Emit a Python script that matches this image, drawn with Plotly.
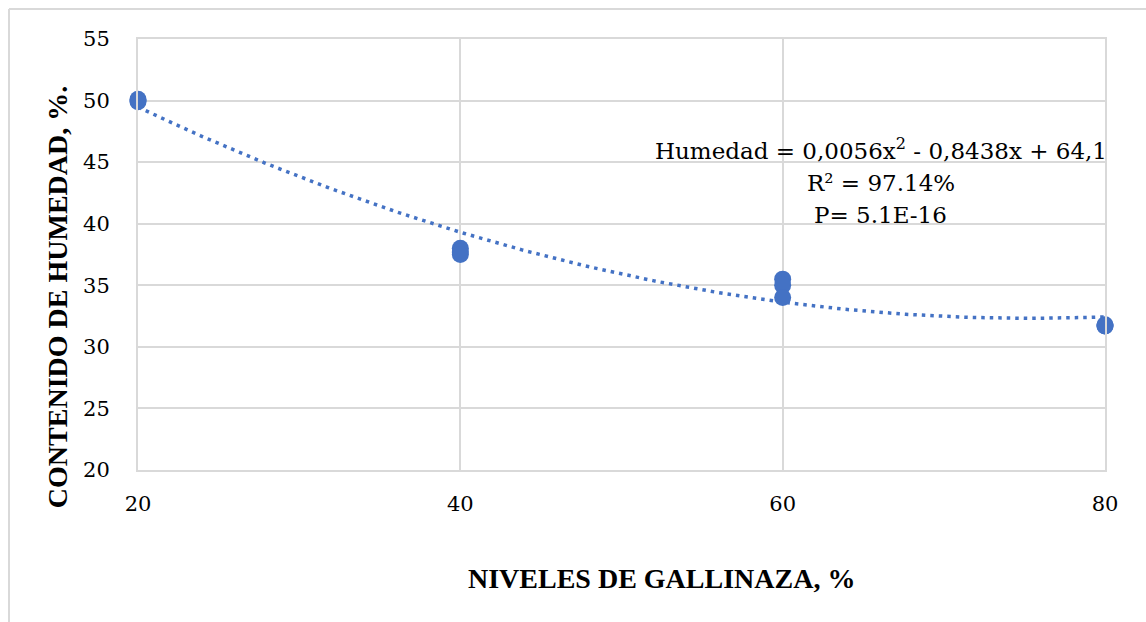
import numpy as np
import plotly.graph_objects as go

# Observed moisture content (%) at each poultry-manure level (%)
niveles = [20, 20, 20, 40, 40, 40, 60, 60, 60, 80, 80, 80]
humedad = [50.1, 50.0, 49.9, 38.0, 37.7, 37.5, 35.5, 35.0, 34.0, 31.8, 31.7, 31.7]

# Quadratic trend reported for the data
coef_a, coef_b, coef_c = 0.0056, -0.8438, 64.1
r2_text = "97.14%"
p_text = "5.1E-16"

x_ticks = [20, 40, 60, 80]
y_ticks = [20, 25, 30, 35, 40, 45, 50, 55]

BLUE = "#4472C4"
GRID = "#D9D9D9"
FONT = "DejaVu Serif"
FONT_B = "Liberation Serif"

xt = np.linspace(20, 80, 200)
yt = coef_a * xt**2 + coef_b * xt + coef_c

fig = go.Figure()
fig.add_trace(go.Scatter(
    x=xt, y=yt, mode="lines",
    line=dict(color=BLUE, width=3.5, dash="3.5px,5px"),
    hoverinfo="skip", showlegend=False,
))
fig.add_trace(go.Scatter(
    x=niveles, y=humedad, mode="markers",
    marker=dict(color=BLUE, size=17),
    cliponaxis=False, showlegend=False,
))

axis_common = dict(
    showgrid=True, gridcolor=GRID, gridwidth=2,
    showline=True, linecolor=GRID, linewidth=2, mirror=True,
    zeroline=False, ticks="",
    tickfont=dict(family=FONT, size=21, color="black"),
)

fig.update_xaxes(range=[20, 80], tickvals=x_ticks, ticklabelstandoff=14, **axis_common)
fig.update_yaxes(range=[20, 55], tickvals=y_ticks, ticklabelstandoff=22, **axis_common)

eq_lines = [
    f"Humedad = {str(coef_a).replace('.', ',')}x<sup>2</sup> - "
    f"{str(abs(coef_b)).replace('.', ',')}x + {str(coef_c).replace('.', ',')}",
    f"R² = {r2_text}",
    f"P= {p_text}",
]
eq_y = [0.7448, 0.6659, 0.5916]

annotations = [
    dict(text=t, xref="paper", yref="paper", x=0.768, y=y,
         xanchor="center", yanchor="middle", showarrow=False,
         font=dict(family=FONT, size=23, color="black"))
    for t, y in zip(eq_lines, eq_y)
]
annotations += [
    dict(text="<b>NIVELES DE GALLINAZA, %</b>", xref="paper", yref="paper",
         x=0.541, y=-0.2506, xanchor="center", yanchor="middle", showarrow=False,
         font=dict(family=FONT_B, size=28, color="black")),
    dict(text="<b>CONTENIDO DE HUMEDAD, %.</b>", xref="paper", yref="paper",
         x=-0.0838, y=0.401, xanchor="center", yanchor="middle", showarrow=False,
         textangle=-90, font=dict(family=FONT_B, size=28, color="black")),
]

fig.update_layout(
    width=1146, height=622,
    margin=dict(l=138, r=41, t=39, b=152),
    paper_bgcolor="white", plot_bgcolor="white",
    font=dict(family=FONT, color="black"),
    annotations=annotations,
    shapes=[
        # outer chart frame (top and left edges)
        dict(type="line", xref="paper", yref="paper", x0=-0.1334, x1=1.05,
             y0=1.0696, y1=1.0696, line=dict(color=GRID, width=2)),
        dict(type="line", xref="paper", yref="paper", x0=-0.1334, x1=-0.1334,
             y0=1.0696, y1=-0.36, line=dict(color=GRID, width=2)),
    ],
)

fig.write_html("out.html")
